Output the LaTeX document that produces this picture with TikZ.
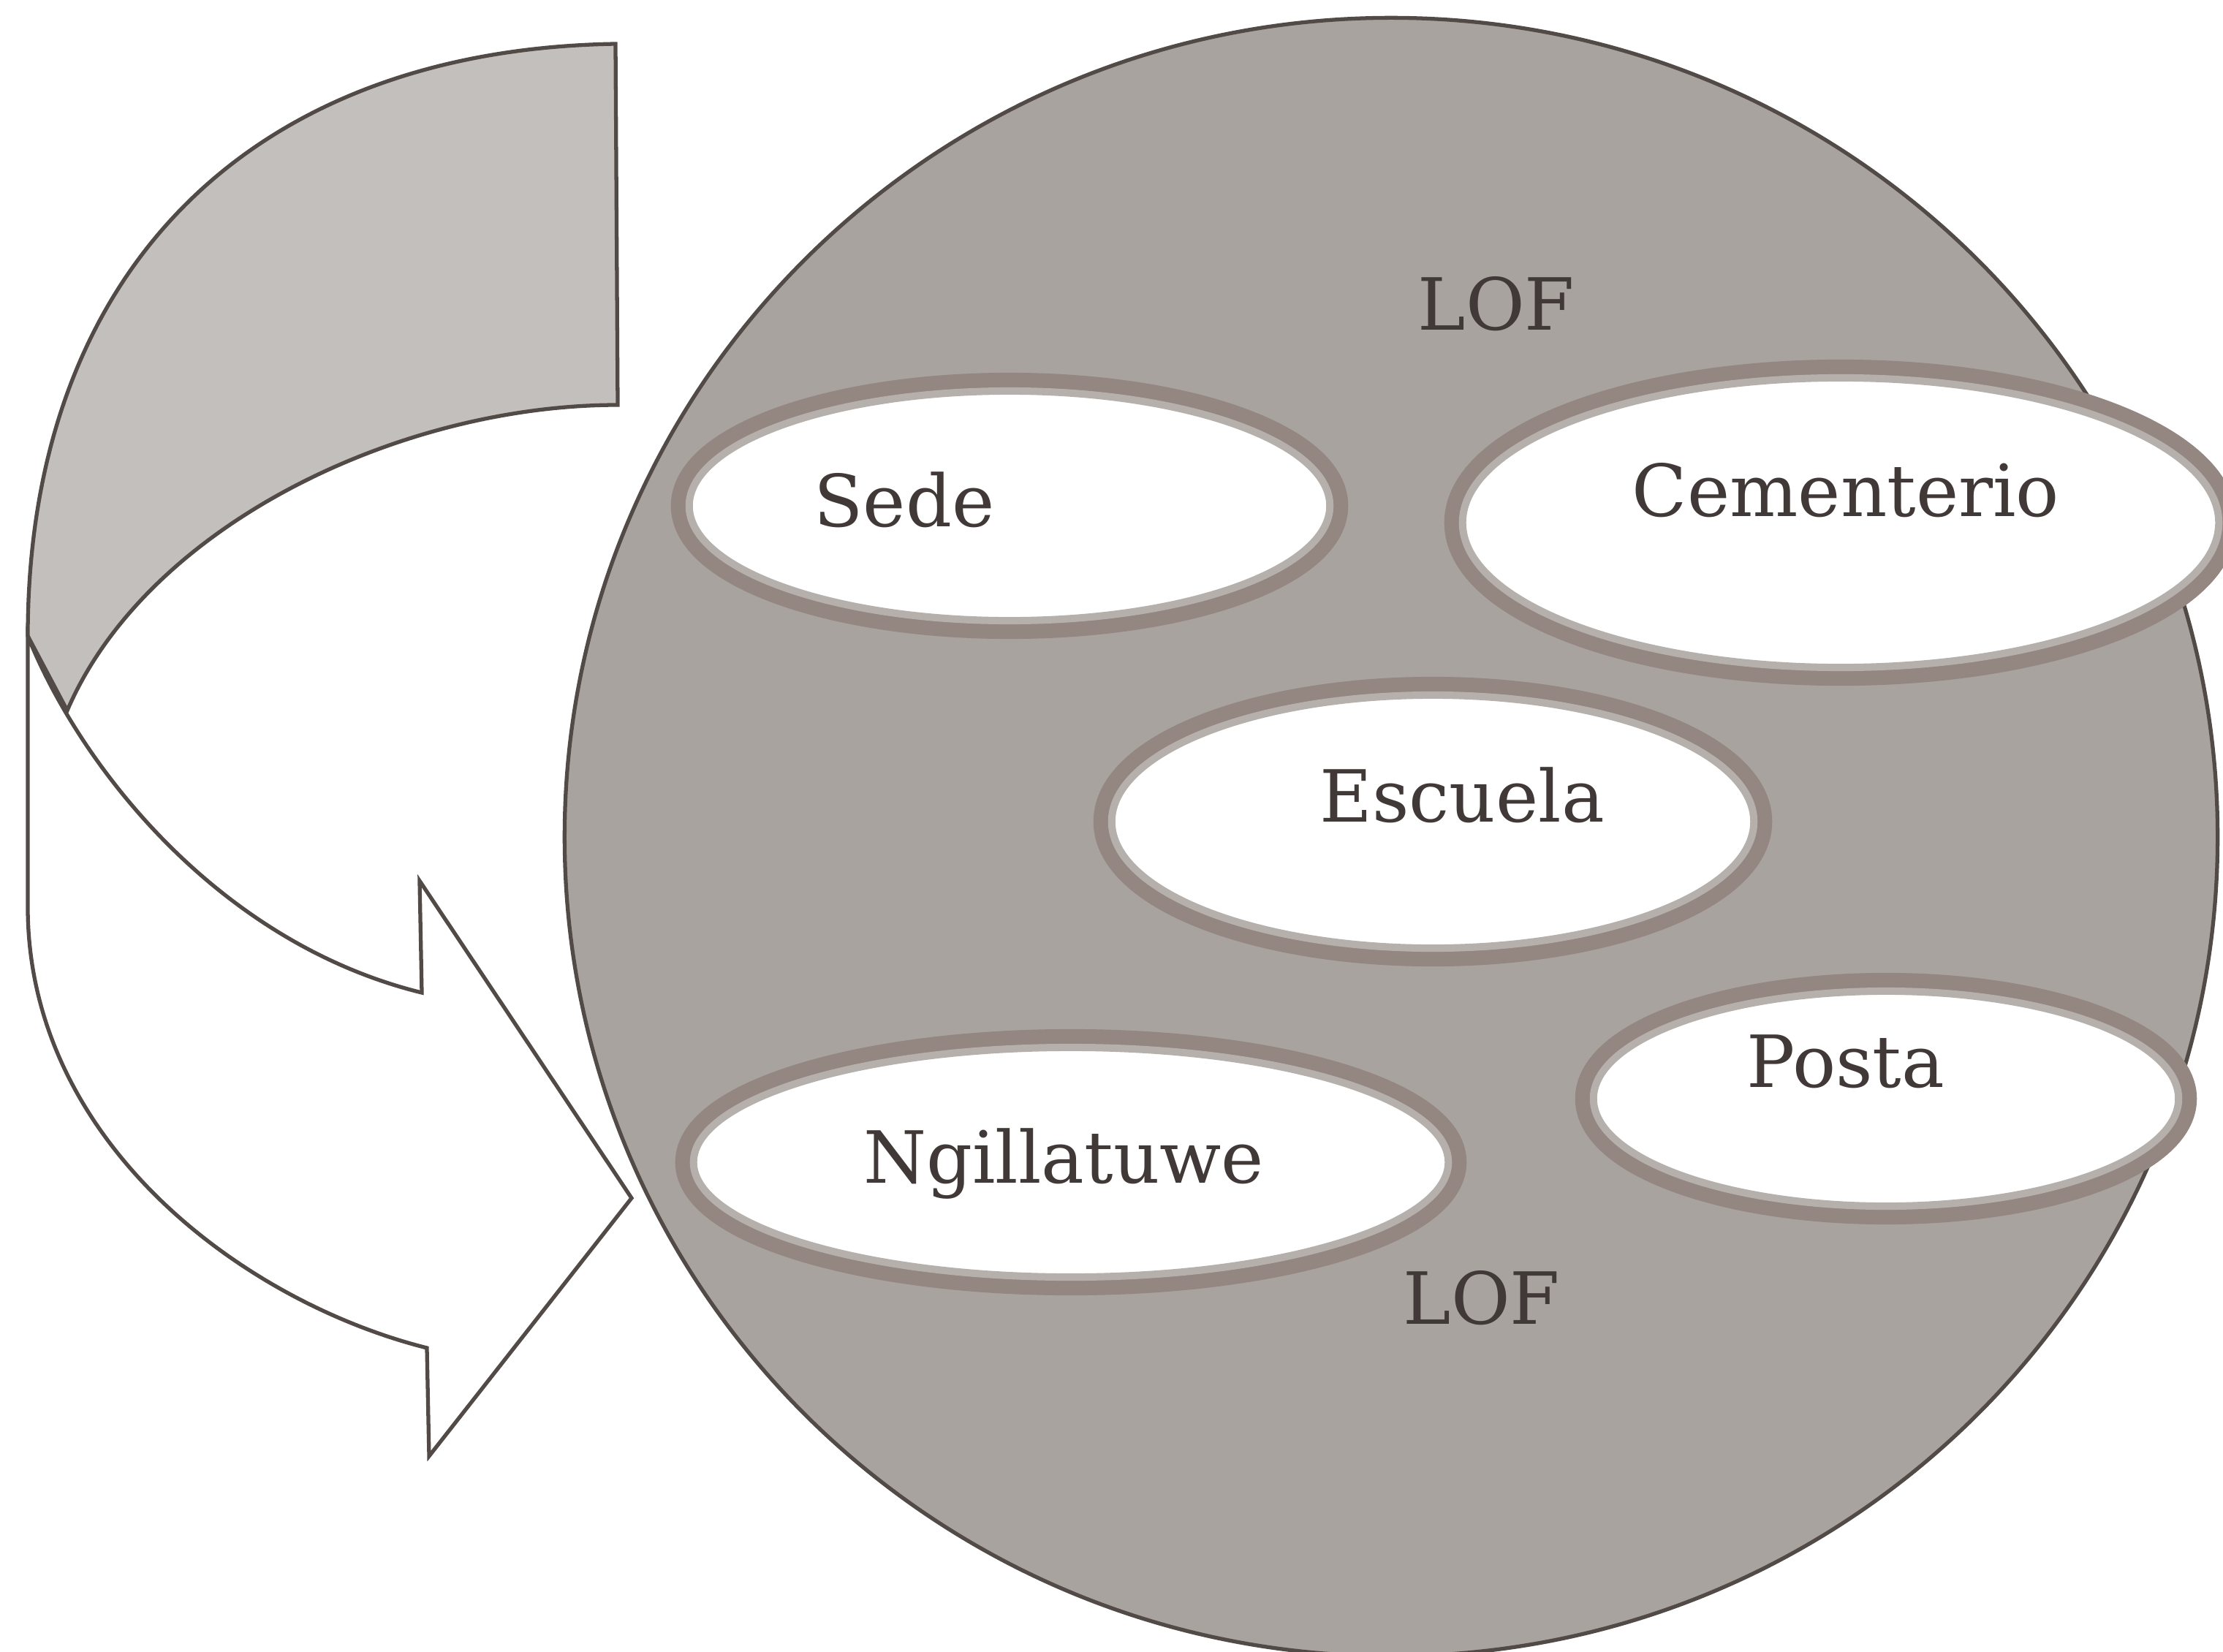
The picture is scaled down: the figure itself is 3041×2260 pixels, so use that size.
\documentclass[tikz,border=0pt]{standalone}
\usepackage{fontspec}
\setmainfont{DejaVu Serif}
\usetikzlibrary{shapes.geometric}
\definecolor{outl}{RGB}{82,74,70}
\definecolor{circfill}{RGB}{168,163,158}
\definecolor{bandfill}{RGB}{194,191,188}
\definecolor{halo}{RGB}{148,134,129}
\definecolor{gapcol}{RGB}{182,176,172}
\definecolor{txt}{RGB}{64,57,55}
\begin{document}
\begin{tikzpicture}[x=0.01cm,y=-0.01cm,
  outline/.style={draw=outl, line width=1.5pt, line join=miter},
  blob/.style={ellipse, fill=white, draw=gapcol, line width=0.1cm, inner sep=0pt, outer sep=0pt,
    preaction={draw=halo, line width=0.5cm}},
  lbl/.style={anchor=base, text=txt, inner sep=0pt, font=\fontsize{28}{34}\selectfont}]
\useasboundingbox (0,0) rectangle (3041,2260);
\fill[white] (0,0) rectangle (3041,2260);
% back face of the curved arrow
\filldraw[outline, fill=bandfill]
  (842,60) .. controls (344,68) and (38,370) .. (38,870)
  -- (92,972)
  .. controls (200,720) and (545,554) .. (845,554)
  -- cycle;
% front face of the curved arrow
\filldraw[outline, fill=white]
  (38,870) .. controls (110,1050) and (300,1290) .. (577,1358)
  -- (574,1205) -- (864,1639) -- (587,1992) -- (584,1844)
  .. controls (330,1780) and (38,1560) .. (38,1241)
  -- cycle;
% big circle
\node[ellipse, outline, fill=circfill, minimum width=22.60cm, minimum height=22.40cm, inner sep=0pt] (lof) at (1903,1145) {};
% white ellipses
\node[blob, minimum width=8.76cm, minimum height=3.14cm] (sedeE) at (1381,692) {};
\node[blob, minimum width=10.34cm, minimum height=3.96cm] (cemE) at (2518,715) {};
\node[blob, minimum width=8.78cm, minimum height=3.46cm] (escE) at (1960,1124) {};
\node[blob, minimum width=8.00cm, minimum height=2.94cm] (posE) at (2580,1503) {};
\node[blob, minimum width=10.32cm, minimum height=3.14cm] (ngiE) at (1465,1590) {};
% labels
\node[lbl] (loftop) at (2047,451) {LOF};
\node[lbl] (sede) at (1237,720) {Sede};
\node[lbl] (cem) at (2525,706) {Cementerio};
\node[lbl] (esc) at (2000,1124) {Escuela};
\node[lbl] (pos) at (2525,1487) {Posta};
\node[lbl] (ngi) at (1455,1618) {Ngillatuwe};
\node[lbl] (lofbot) at (2027,1811) {LOF};
\end{tikzpicture}
\end{document}
